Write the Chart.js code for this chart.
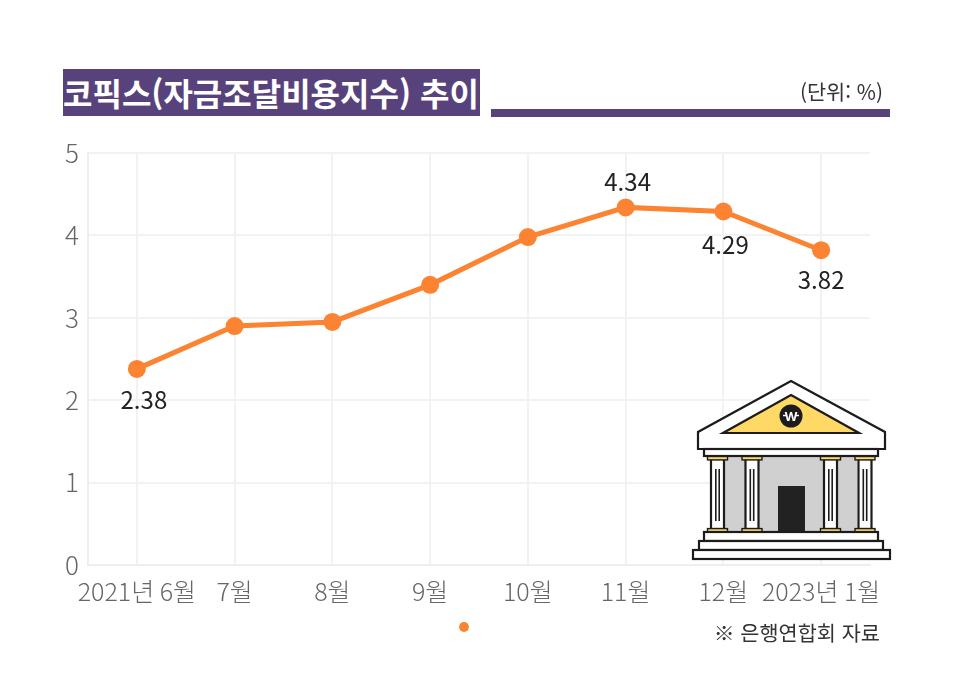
<!DOCTYPE html>
<html lang="ko">
<head>
<meta charset="utf-8">
<title>코픽스 추이</title>
<script src="https://cdn.jsdelivr.net/npm/chart.js@4"></script>
<style>
  html, body { margin: 0; padding: 0; background: #fff; }
  body { width: 957px; height: 687px; position: relative; overflow: hidden; font-family: "Noto Sans CJK KR", "Noto Sans", sans-serif; }
  #metricsChart { position: absolute; left: 0; top: 0; }
  .title { position: absolute; left: 63px; top: 69px; width: 417px; height: 47px; background: #58427c; color: #fff; font-size: 32px; font-weight: 700; line-height: 47px; white-space: nowrap; }
  .rule { position: absolute; left: 491px; top: 109px; width: 399px; height: 8px; background: #58427c; }
  .unit { position: absolute; right: 74px; top: 76px; font-size: 20.8px; line-height: 30px; color: #333; white-space: nowrap; }
  .source { position: absolute; right: 77px; top: 617px; font-size: 20.8px; line-height: 30px; color: #333; white-space: nowrap; }
  #bank { position: absolute; left: 680px; top: 370px; }
</style>
</head>
<body>
<canvas id="metricsChart" width="957" height="687"></canvas>
<div class="title">코픽스(자금조달비용지수) 추이</div>
<div class="rule"></div>
<div class="unit">(단위: %)</div>
<div class="source">※ 은행연합회 자료</div>

<svg id="bank" width="220" height="200" viewBox="0 0 220 200">
  <g stroke="#1c1c1c" stroke-width="2.2" stroke-linejoin="miter">
    <rect x="45" y="86" width="132" height="76" fill="#d0d0d0" stroke="none"/>
    <rect x="98" y="116" width="27" height="47" fill="#222" stroke="none"/>
    <polygon points="111,11 205,62 205,79 18,79 18,62" fill="#fff"/>
    <polygon points="111,25 179,63 43,63" fill="#ffd966"/>
    <rect x="24" y="79" width="174" height="7" fill="#fff"/>
    <g id="col">
      <rect x="31" y="89" width="13" height="70" fill="#fff"/>
      <rect x="27.5" y="86.5" width="20" height="3.4" fill="#ffd966" stroke-width="1.4"/>
      <rect x="27.5" y="158.6" width="20" height="3.6" fill="#ffd966" stroke-width="1.4"/>
      <path d="M35.8 99V151M39.2 99V151" fill="none" stroke-width="1.6"/>
    </g>
    <use href="#col" x="34.5"/>
    <use href="#col" x="113"/>
    <use href="#col" x="147.5"/>
    <rect x="24" y="162" width="174" height="9" fill="#fff"/>
    <rect x="19" y="171" width="184" height="9" fill="#fff"/>
    <rect x="13" y="180" width="197" height="9" fill="#fff"/>
  </g>
  <circle cx="111" cy="46" r="11.5" fill="#1c1c1c"/>
  <text x="111" y="50.5" text-anchor="middle" font-size="13" font-weight="700" fill="#fff" font-family="Noto Sans, sans-serif">W</text>
  <path d="M103 45.5h3M116 45.5h3" stroke="#fff" stroke-width="1.4"/>
</svg>

<script>
const categories = ['2021년 6월', '7월', '8월', '9월', '10월', '11월', '12월', '2023년 1월'];
const kofixValues = [2.38, 2.90, 2.95, 3.40, 3.98, 4.34, 4.29, 3.82];
const yTicks = [0, 1, 2, 3, 4, 5];
const labelledPoints = [0, 5, 6, 7];

// value labels next to the points, only four of them are printed
const labelOffsets = { 0: [7, 31], 5: [2, -26], 6: [2, 33], 7: [0, 30] };
const pointLabels = {
    id: 'pointLabels',
    afterDatasetsDraw(chart) {
        const c = chart.ctx;
        const pts = chart.getDatasetMeta(0).data;
        c.save();
        c.font = '24px "Noto Sans CJK KR", sans-serif';
        c.fillStyle = '#222';
        c.textAlign = 'center';
        c.textBaseline = 'middle';
        labelledPoints.forEach(i => {
            const off = labelOffsets[i];
            c.fillText(kofixValues[i].toFixed(2), pts[i].x + off[0], pts[i].y + off[1]);
        });
        c.restore();
    }
};

new Chart(document.getElementById('metricsChart'), {
    type: 'line',
    data: {
        labels: categories,
        datasets: [{
            label: '',
            data: kofixValues,
            borderColor: '#fb8332',
            backgroundColor: '#fb8332',
            borderWidth: 5,
            pointRadius: 9,
            pointHoverRadius: 9,
            pointBackgroundColor: '#fb8332',
            pointBorderColor: '#fb8332',
            pointBorderWidth: 0,
            tension: 0
        }]
    },
    options: {
        responsive: false,
        animation: false,
        layout: { padding: { left: 62, right: 87, top: 153, bottom: 46 } },
        plugins: {
            tooltip: { enabled: false },
            legend: {
                position: 'bottom',
                labels: { usePointStyle: true, pointStyle: 'circle', boxHeight: 7, font: { size: 8 }, padding: 12 }
            }
        },
        scales: {
            x: {
                offset: true,
                grid: { offset: false, color: '#f2f2f2', lineWidth: 2, drawTicks: false },
                border: { color: '#eeeeee', width: 2 },
                ticks: {
                    autoSkip: false, maxRotation: 0, padding: 11, color: '#666666',
                    font: { size: 25, family: '"Noto Sans CJK KR", sans-serif', weight: 300 }
                },
                afterFit(scale) { scale.height = 46; }
            },
            y: {
                min: 0,
                max: 5,
                afterBuildTicks(scale) { scale.ticks = yTicks.map(v => ({ value: v })); },
                grid: { color: '#f2f2f2', lineWidth: 2, drawTicks: false },
                border: { color: '#eeeeee', width: 2 },
                ticks: {
                    padding: 9, color: '#666666',
                    font: { size: 26, family: '"Noto Sans CJK KR", sans-serif', weight: 300 }
                },
                afterFit(scale) { scale.width = 26; }
            }
        }
    },
    plugins: [pointLabels]
});
</script>
</body>
</html>
